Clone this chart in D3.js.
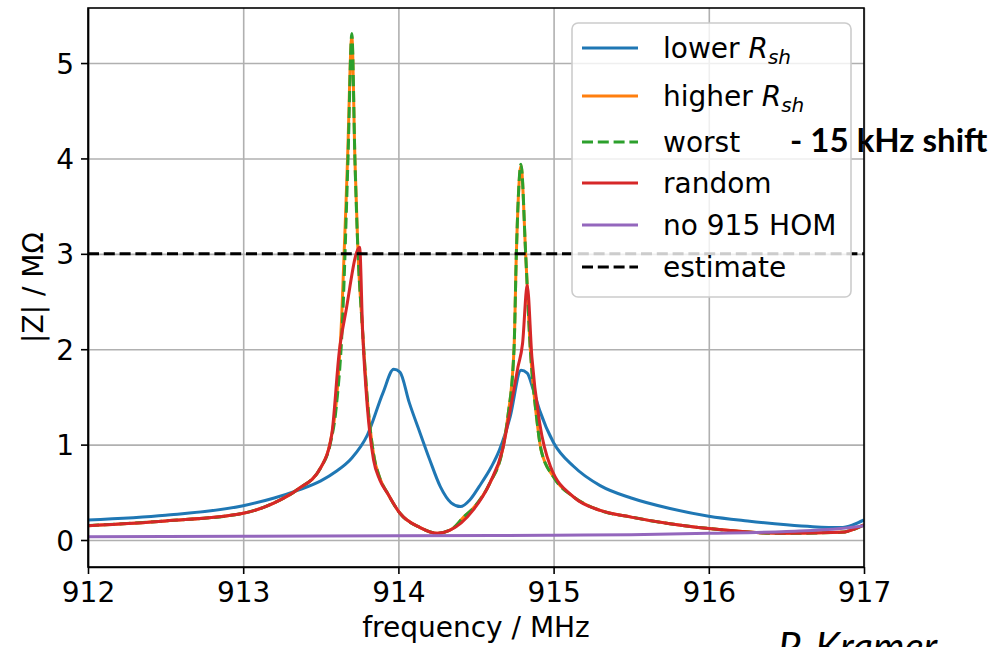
<!DOCTYPE html>
<html>
<head>
<meta charset="utf-8">
<script src="https://cdn.jsdelivr.net/npm/d3@7"></script>
<style>
    body { margin: 0; background: #fff; }
    svg { display: block; font-family: "DejaVu Sans", sans-serif; }
    .axis path, .axis line { stroke: #000; stroke-width: 1.6; }
    .axis text { font-size: 28px; fill: #000; font-family: "DejaVu Sans", sans-serif; }
    .grid line { stroke: #b0b0b0; stroke-width: 1.6; }
    .grid path { display: none; }
</style>
</head>
<body>
<div id="chart"></div>
<script>

// values (frequency in MHz, |Z| in MOhm)
var lowerFreq = [912.0, 912.5, 913.0, 913.2, 913.35, 913.5, 913.6, 913.7, 913.8, 913.9, 913.97, 914.01, 914.07, 914.14, 914.2, 914.27, 914.34, 914.4, 914.46, 914.52, 914.6, 914.65, 914.72, 914.79, 914.83, 914.87, 914.91, 915.0, 915.13, 915.3, 915.5, 915.75, 916.0, 916.25, 916.5, 916.67, 916.85, 916.93, 917.0];
var lowerZ    = [0.21, 0.26, 0.36, 0.44, 0.52, 0.62, 0.72, 0.86, 1.1, 1.54, 1.79, 1.76, 1.44, 1.12, 0.85, 0.56, 0.39, 0.35, 0.42, 0.56, 0.77, 0.94, 1.29, 1.78, 1.75, 1.57, 1.36, 1.02, 0.77, 0.57, 0.44, 0.33, 0.25, 0.2, 0.16, 0.14, 0.13, 0.16, 0.21];

var higherFreq = [912.0, 912.5, 913.0, 913.2, 913.35, 913.5, 913.56, 913.6, 913.635, 913.672, 913.70, 913.72, 913.74, 913.765, 913.8, 913.84, 913.88, 913.93, 914.01, 914.14, 914.25, 914.35, 914.42, 914.48, 914.59, 914.67, 914.705, 914.745, 914.76, 914.79, 914.82, 914.85, 914.89, 914.92, 915.0, 915.13, 915.3, 915.5, 915.75, 916.0, 916.46, 916.85, 917.0];
var higherZ    = [0.15, 0.20, 0.28, 0.39, 0.53, 0.76, 1.02, 1.45, 2.35, 3.98, 5.28, 3.98, 3.0, 2.3, 1.47, 0.9, 0.65, 0.49, 0.28, 0.13, 0.07, 0.12, 0.24, 0.33, 0.6, 0.94, 1.29, 2.0, 3.0, 3.92, 3.0, 2.0, 1.29, 0.94, 0.66, 0.45, 0.31, 0.24, 0.17, 0.12, 0.07, 0.08, 0.16];

var worstFreq = [912.0, 912.5, 913.0, 913.2, 913.35, 913.5, 913.56, 913.6, 913.64, 913.675, 913.70, 913.72, 913.74, 913.765, 913.8, 913.84, 913.88, 913.93, 914.01, 914.14, 914.25, 914.35, 914.42, 914.48, 914.59, 914.67, 914.705, 914.745, 914.76, 914.79, 914.82, 914.85, 914.89, 914.92, 915.0, 915.13, 915.3, 915.5, 915.75, 916.0, 916.46, 916.85, 917.0];
var worstZ    = [0.15, 0.20, 0.28, 0.39, 0.53, 0.76, 1.0, 1.4, 2.3, 3.98, 5.31, 3.98, 3.0, 2.3, 1.47, 0.9, 0.65, 0.49, 0.28, 0.13, 0.07, 0.12, 0.24, 0.33, 0.6, 0.94, 1.29, 2.0, 3.0, 3.94, 3.0, 2.0, 1.29, 0.94, 0.66, 0.45, 0.31, 0.24, 0.17, 0.12, 0.07, 0.08, 0.16];

var randomFreq = [912.0, 912.5, 913.0, 913.2, 913.35, 913.5, 913.57, 913.62, 913.66, 913.75, 913.77, 913.8, 913.84, 913.88, 913.93, 914.01, 914.14, 914.25, 914.33, 914.48, 914.59, 914.67, 914.72, 914.77, 914.80, 914.83, 914.86, 914.91, 914.98, 915.13, 915.3, 915.5, 915.75, 916.0, 916.46, 916.85, 917.0];
var randomZ    = [0.15, 0.20, 0.28, 0.39, 0.53, 0.76, 1.1, 1.99, 2.38, 3.07, 2.17, 1.39, 0.84, 0.63, 0.49, 0.28, 0.13, 0.07, 0.10, 0.31, 0.6, 0.94, 1.36, 1.81, 2.06, 2.67, 1.92, 1.23, 0.77, 0.45, 0.31, 0.24, 0.17, 0.12, 0.07, 0.08, 0.16];

var noHomFreq = [912.0, 913.0, 914.0, 915.0, 915.5, 916.0, 916.5, 916.85, 917.0];
var noHomZ    = [0.035, 0.04, 0.045, 0.05, 0.055, 0.07, 0.09, 0.12, 0.15];

var estimateZ = 3;

var xTicks = [912, 913, 914, 915, 916, 917];
var yTicks = [0, 1, 2, 3, 4, 5];

var chart = {};
chart.width = 997;
chart.height = 647;
chart.margin = { top: 8, left: 88, right: 133, bottom: 80 };

chart.svg = d3.select("#chart")
    .append("svg")
    .attr("width", chart.width)
    .attr("height", chart.height);

/*
SCALES
*/
chart.xScale = d3.scaleLinear()
    .domain([912, 917])
    .range([chart.margin.left, chart.width - chart.margin.right]);

chart.yScale = d3.scaleLinear()
    .domain([-0.283, 5.577])
    .range([chart.height - chart.margin.bottom, chart.margin.top]);

var plotW = chart.width - chart.margin.left - chart.margin.right;
var plotH = chart.height - chart.margin.top - chart.margin.bottom;

/*
GRID
*/
chart.svg.append("g")
    .attr("class", "grid")
    .attr("transform", `translate(0, ${chart.height - chart.margin.bottom})`)
    .call(d3.axisBottom(chart.xScale).tickValues(xTicks).tickSize(-plotH).tickFormat(""));

chart.svg.append("g")
    .attr("class", "grid")
    .attr("transform", `translate(${chart.margin.left}, 0)`)
    .call(d3.axisLeft(chart.yScale).tickValues(yTicks).tickSize(-plotW).tickFormat(""));

chart.svg.append("clipPath")
    .attr("id", "plotclip")
    .append("rect")
    .attr("x", chart.margin.left)
    .attr("y", chart.margin.top)
    .attr("width", plotW)
    .attr("height", plotH);

/*
LINES
*/
var line = d3.line()
    .x(function(d) { return chart.xScale(d[0]); })
    .y(function(d) { return chart.yScale(d[1]); })
    .curve(d3.curveMonotoneX);

function pairs(fs, zs) {
    return fs.map(function(f, i) { return [f, zs[i]]; });
}

var series = [
    { label: "lower", sub: true, color: "#1f77b4", dash: null, data: pairs(lowerFreq, lowerZ) },
    { label: "higher", sub: true, color: "#ff7f0e", dash: null, data: pairs(higherFreq, higherZ) },
    { label: "worst", sub: false, color: "#2ca02c", dash: "11,4.8", data: pairs(worstFreq, worstZ) },
    { label: "random", sub: false, color: "#d62728", dash: null, data: pairs(randomFreq, randomZ) },
    { label: "no 915 HOM", sub: false, color: "#9467bd", dash: null, data: pairs(noHomFreq, noHomZ) },
    { label: "estimate", sub: false, color: "#000000", dash: "11,4.8", data: [[912, estimateZ], [917, estimateZ]] }
];

chart.lines = chart.svg.append("g")
    .attr("clip-path", "url(#plotclip)")
    .selectAll("path")
    .data(series)
    .enter()
    .append("path")
    .attr("d", function(d) { return line(d.data); })
    .attr("fill", "none")
    .attr("stroke", function(d) { return d.color; })
    .attr("stroke-width", 3)
    .attr("stroke-dasharray", function(d) { return d.dash; })
    .attr("stroke-linejoin", "round");

/*
AXES
*/
chart.xAxis = chart.svg.append("g")
    .attr("class", "axis")
    .attr("transform", `translate(0, ${chart.height - chart.margin.bottom})`)
    .call(d3.axisBottom(chart.xScale).tickValues(xTicks).tickFormat(d3.format("d"))
        .tickSize(7).tickPadding(8).tickSizeOuter(0));

chart.yAxis = chart.svg.append("g")
    .attr("class", "axis")
    .attr("transform", `translate(${chart.margin.left}, 0)`)
    .call(d3.axisLeft(chart.yScale).tickValues(yTicks).tickFormat(d3.format("d"))
        .tickSize(7).tickPadding(7).tickSizeOuter(0));

chart.yAxis.selectAll(".tick text").attr("dy", "0.36em");

// frame
chart.svg.append("rect")
    .attr("x", chart.margin.left)
    .attr("y", chart.margin.top)
    .attr("width", plotW)
    .attr("height", plotH)
    .attr("fill", "none")
    .attr("stroke", "#000")
    .attr("stroke-width", 1.6);

/*
AXIS LABELS
*/
chart.svg.append("text")
    .attr("x", chart.margin.left + plotW / 2)
    .attr("y", 637)
    .attr("text-anchor", "middle")
    .style("font-size", "28px")
    .text("frequency / MHz");

chart.svg.append("text")
    .attr("transform", "rotate(-90)")
    .attr("x", -(chart.margin.top + plotH / 2))
    .attr("y", 43)
    .attr("text-anchor", "middle")
    .style("font-size", "28px")
    .text("|Z| / MΩ");

/*
LEGEND
*/
var leg = chart.svg.append("g");

leg.append("rect")
    .attr("x", 572)
    .attr("y", 23)
    .attr("width", 279)
    .attr("height", 274)
    .attr("rx", 6)
    .attr("fill", "#fff")
    .attr("fill-opacity", 0.8)
    .attr("stroke", "#cccccc")
    .attr("stroke-width", 1.6);

var rowY = [48, 96, 142, 183, 225, 267];

var rows = leg.selectAll("g.row")
    .data(series)
    .enter()
    .append("g")
    .attr("class", "row")
    .attr("transform", function(d, i) { return `translate(0, ${rowY[i]})`; });

rows.append("line")
    .attr("x1", 582)
    .attr("x2", 638)
    .attr("stroke", function(d) { return d.color; })
    .attr("stroke-width", 3)
    .attr("stroke-dasharray", function(d) { return d.dash ? "11,4.8" : null; });

var labels = rows.append("text")
    .attr("x", 663)
    .attr("y", 10)
    .style("font-size", "28px");

labels.append("tspan").text(function(d) { return d.label; });

labels.filter(function(d) { return d.sub; })
    .append("tspan")
    .style("font-style", "italic")
    .text(" R");

labels.filter(function(d) { return d.sub; })
    .append("tspan")
    .style("font-style", "italic")
    .style("font-size", "20px")
    .attr("dy", 6)
    .text("sh");

/*
ANNOTATIONS
*/
chart.svg.append("text")
    .attr("x", 790)
    .attr("y", 152)
    .style("font-family", "Lato, sans-serif")
    .style("font-weight", "bold")
    .style("font-size", "33px")
    .text("- 15 kHz shift");

chart.svg.append("text")
    .attr("x", 778)
    .attr("y", 661)
    .style("font-family", "Lato, sans-serif")
    .style("font-style", "italic")
    .style("font-size", "40px")
    .text("P. Kramer");

</script>
</body>
</html>
